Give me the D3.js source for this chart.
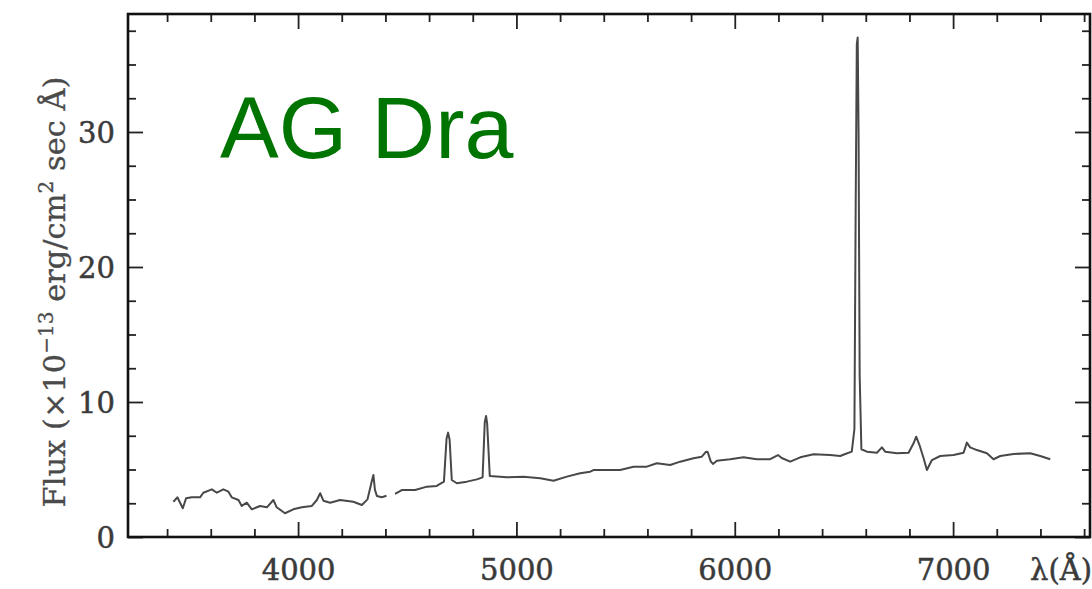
<!DOCTYPE html>
<html>
<head>
<meta charset="utf-8">
<script src="https://cdn.jsdelivr.net/npm/d3@7"></script>
<style>
  body { margin: 0; background: #fff; }
  svg { display: block; }
</style>
</head>
<body>
<script>
// AG Dra optical spectrum
const wave = [3429, 3447, 3472, 3487, 3513, 3551, 3566, 3605, 3628, 3658, 3681, 3696,
  3727, 3742, 3765, 3788, 3826, 3857, 3887, 3902, 3940, 3978, 4017, 4063, 4086, 4101,
  4116, 4147, 4192, 4253, 4292, 4318, 4340, 4345, 4352, 4361, 4383, 4405, 4420, 4444,
  4475, 4536, 4590, 4635, 4668, 4680, 4687, 4694, 4704, 4727, 4773, 4819, 4845, 4855,
  4861, 4866, 4878, 4956, 5032, 5109, 5170, 5231, 5292, 5338, 5353, 5414, 5475, 5536,
  5597, 5643, 5704, 5750, 5811, 5849, 5869, 5876, 5890, 5900, 5918, 5979, 6040, 6101,
  6162, 6198, 6215, 6254, 6300, 6361, 6437, 6483, 6506, 6536, 6548, 6554, 6559, 6563,
  6567, 6572, 6580, 6605, 6651, 6674, 6689, 6743, 6796, 6819, 6831, 6846, 6865, 6880,
  6903, 6941, 7002, 7048, 7063, 7078, 7109, 7155, 7185, 7216, 7277, 7353, 7399, 7445];
const flux = [2.61, 2.94, 2.13, 2.87, 2.94, 2.94, 3.28, 3.53, 3.28, 3.53, 3.36, 2.94,
  2.74, 2.30, 2.54, 2.05, 2.30, 2.20, 2.74, 2.20, 1.76, 2.05, 2.20, 2.30, 2.74, 3.24,
  2.69, 2.54, 2.74, 2.61, 2.37, 2.79, 4.30, 4.59, 3.50, 3.04, 2.94, 3.05, null, 3.19,
  3.48, 3.48, 3.73, 3.78, 4.10, 7.30, 7.73, 7.20, 4.22, 3.98, 4.10, 4.27, 4.42, 8.50,
  8.96, 8.40, 4.52, 4.42, 4.47, 4.35, 4.17, 4.47, 4.72, 4.84, 4.96, 4.96, 4.96, 5.21,
  5.21, 5.46, 5.33, 5.58, 5.83, 5.95, 6.32, 6.30, 5.60, 5.41, 5.65, 5.76, 5.90, 5.76,
  5.76, 6.07, 5.85, 5.58, 5.90, 6.13, 6.07, 6.00, 6.15, 6.32, 8.00, 25.0, 36.5, 37.0,
  30.0, 12.0, 6.50, 6.32, 6.24, 6.64, 6.32, 6.20, 6.24, 6.94, 7.43, 6.81, 5.83, 4.96,
  5.70, 6.00, 6.07, 6.24, 6.99, 6.64, 6.44, 6.20, 5.76, 6.00, 6.15, 6.20, 6.00, 5.76];

const xMajor = [4000, 5000, 6000, 7000];
const xMinor = d3.range(3400, 7601, 200).filter(v => v % 1000 !== 0);
const yMajor = [0, 10, 20, 30];
const yMinor = [2.5, 5, 7.5, 12.5, 15, 17.5, 22.5, 25, 27.5, 32.5, 35, 37.5];

const width = 1092, height = 589;
const m = { left: 128, right: 1090, top: 14, bottom: 537 };

const svg = d3.select("body").append("svg")
  .attr("width", width)
  .attr("height", height);

svg.append("rect").attr("width", width).attr("height", height).attr("fill", "#fff");

const x = d3.scaleLinear().domain([3221, 7627]).range([m.left, m.right]);
const y = d3.scaleLinear().domain([0, 38.74]).range([m.bottom, m.top]);

const tickFont = "'DejaVu Serif', serif";
const textCol = "#3a3a3a";

// inward ticks on all four sides
function ticks(axis, vals, size, tr) {
  const g = svg.append("g")
    .attr("transform", tr)
    .call(axis.tickValues(vals).tickSize(size).tickFormat(""));
  g.select(".domain").remove();
  g.selectAll("line").attr("stroke", "#222").attr("stroke-width", 1.8);
  return g;
}

ticks(d3.axisBottom(x), xMinor, -8, `translate(0,${m.bottom})`);
ticks(d3.axisTop(x), xMinor, -8, `translate(0,${m.top})`);
ticks(d3.axisTop(x), xMajor, -15, `translate(0,${m.top})`);
ticks(d3.axisLeft(y), yMinor, -8, `translate(${m.left},0)`);
ticks(d3.axisRight(y), yMinor, -8, `translate(${m.right},0)`);
ticks(d3.axisRight(y), yMajor, -15, `translate(${m.right},0)`);

const xAxis = svg.append("g")
  .attr("transform", `translate(0,${m.bottom})`)
  .call(d3.axisBottom(x).tickValues(xMajor).tickSize(-15).tickFormat(d3.format("d")));
xAxis.select(".domain").remove();
xAxis.selectAll("line").attr("stroke", "#222").attr("stroke-width", 1.8);
xAxis.selectAll("text")
  .attr("y", 43).attr("dy", null)
  .attr("font-family", tickFont).attr("font-size", 29)
  .attr("fill", textCol).attr("stroke", textCol).attr("stroke-width", 0.5);

const yAxis = svg.append("g")
  .attr("transform", `translate(${m.left},0)`)
  .call(d3.axisLeft(y).tickValues(yMajor).tickSize(-15).tickFormat(d3.format("d")));
yAxis.select(".domain").remove();
yAxis.selectAll("line").attr("stroke", "#222").attr("stroke-width", 1.8);
yAxis.selectAll("text")
  .attr("x", -13).attr("dy", "0.36em")
  .attr("font-family", tickFont).attr("font-size", 29)
  .attr("fill", textCol).attr("stroke", textCol).attr("stroke-width", 0.5);

// frame
svg.append("rect")
  .attr("x", m.left).attr("y", m.top)
  .attr("width", m.right - m.left).attr("height", m.bottom - m.top)
  .attr("fill", "none").attr("stroke", "#111").attr("stroke-width", 2.6);

// spectrum
const pts = wave.map((w, i) => ({ w: w, f: flux[i] }));
const line = d3.line()
  .defined(d => d.f != null)
  .x(d => x(d.w))
  .y(d => y(d.f));

svg.append("path")
  .datum(pts)
  .attr("d", line)
  .attr("fill", "none")
  .attr("stroke", "#484848")
  .attr("stroke-width", 2)
  .attr("stroke-linejoin", "round");

// axis titles
svg.append("text")
  .attr("x", 1030).attr("y", 580)
  .attr("font-family", tickFont).attr("font-size", 29)
  .attr("fill", textCol).attr("stroke", textCol).attr("stroke-width", 0.5)
  .text("λ(Å)");

const yl = svg.append("text")
  .attr("transform", "translate(65,292) rotate(-90)")
  .attr("text-anchor", "middle")
  .attr("font-family", tickFont).attr("font-size", 30.5)
  .attr("fill", "#4a4a4a").attr("stroke", "#4a4a4a").attr("stroke-width", 0.3);
yl.append("tspan").text("Flux (×10");
yl.append("tspan").attr("dy", -12).attr("font-size", 20).text("−13");
yl.append("tspan").attr("dy", 12).text("  erg/cm");
yl.append("tspan").attr("dy", -12).attr("font-size", 20).text("2");
yl.append("tspan").attr("dy", 12).text(" sec Å)");

svg.append("text")
  .attr("x", 220).attr("y", 158)
  .attr("font-family", "'Liberation Sans', Arial, sans-serif")
  .attr("font-size", 88)
  .attr("fill", "#007400")
  .text("AG Dra");
</script>
</body>
</html>
